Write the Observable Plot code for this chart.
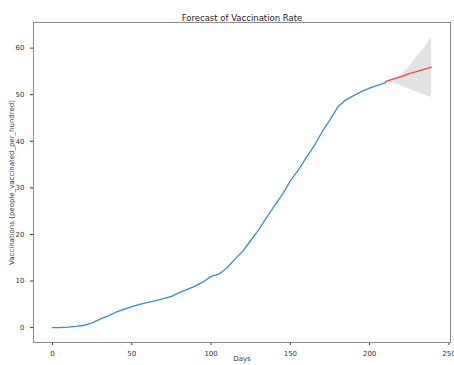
<!DOCTYPE html>
<html>
<head>
<meta charset="utf-8">
<script src="https://cdn.jsdelivr.net/npm/d3@7"></script>
<script src="https://cdn.jsdelivr.net/npm/@observablehq/plot@0.6"></script>
<style>
  html, body { margin: 0; padding: 0; background: #fff; }
  svg { display: block; }
</style>
</head>
<body>
<div id="chart"></div>
<script>
const histDays = [0,5,10,15,20,25,30,35,40,45,50,55,60,65,70,75,80,85,90,95,100,105,110,115,120,125,130,135,140,145,150,155,160,165,170,175,180,185,190,195,200,205,210];
const histValues = [0,0.02,0.1,0.25,0.5,1.0,1.8,2.5,3.3,3.9,4.5,5.0,5.4,5.8,6.2,6.7,7.5,8.2,8.9,9.8,11.0,11.5,12.8,14.7,16.4,18.7,21.0,23.6,26.2,28.6,31.5,33.8,36.5,39.0,42.0,44.6,47.4,48.9,49.8,50.7,51.4,52.0,52.6];
const fcDays = [210,215,220,225,230,235,239];
const fcValues = [52.8,53.4,53.9,54.5,55.0,55.5,55.9];
const fcUpper = [52.8,53.3,54.3,56.0,58.2,60.3,62.3];
const fcLower = [52.8,52.5,51.9,51.2,50.5,49.9,49.4];
const xTicks = [0,50,100,150,200,250];
const yTicks = [0,10,20,30,40,50,60];

const hist = histDays.map((d,i) => ({day: d, value: histValues[i]}));
const fc = fcDays.map((d,i) => ({day: d, value: fcValues[i], lo: fcLower[i], hi: fcUpper[i]}));

const chart = Plot.plot({
  width: 454,
  height: 365,
  marginLeft: 33,
  marginRight: 4,
  marginTop: 22,
  marginBottom: 23,
  style: {fontFamily: "DejaVu Sans", fontSize: "7px", color: "#333", background: "#fff"},
  x: {domain: [-12, 251], ticks: xTicks, tickSize: 3, label: null},
  y: {domain: [-3.2, 65.5], ticks: yTicks, tickSize: 3, label: null},
  marks: [
    Plot.areaY(fc, {x: "day", y1: "lo", y2: "hi", fill: "#e2e2e2"}),
    Plot.line(hist, {x: "day", y: "value", stroke: "#3a8ccc", strokeWidth: 1.3}),
    Plot.line(fc, {x: "day", y: "value", stroke: "#f04a4a", strokeWidth: 1.3}),
    Plot.frame({stroke: "#8a8a8a", strokeWidth: 1}),
    Plot.text(["Forecast of Vaccination Rate"], {frameAnchor: "top", dy: -8, fontSize: 8.5, fill: "#222"}),
    Plot.text(["Days"], {frameAnchor: "bottom", dy: 18, fontSize: 7, fill: "#333"}),
    Plot.text(["Vaccinations (people_vaccinated_per_hundred)"], {frameAnchor: "left", textAnchor: "middle", dx: -22, rotate: -90, fontSize: 7, fill: "#333"})
  ]
});
document.getElementById("chart").appendChild(chart);
</script>
</body>
</html>
